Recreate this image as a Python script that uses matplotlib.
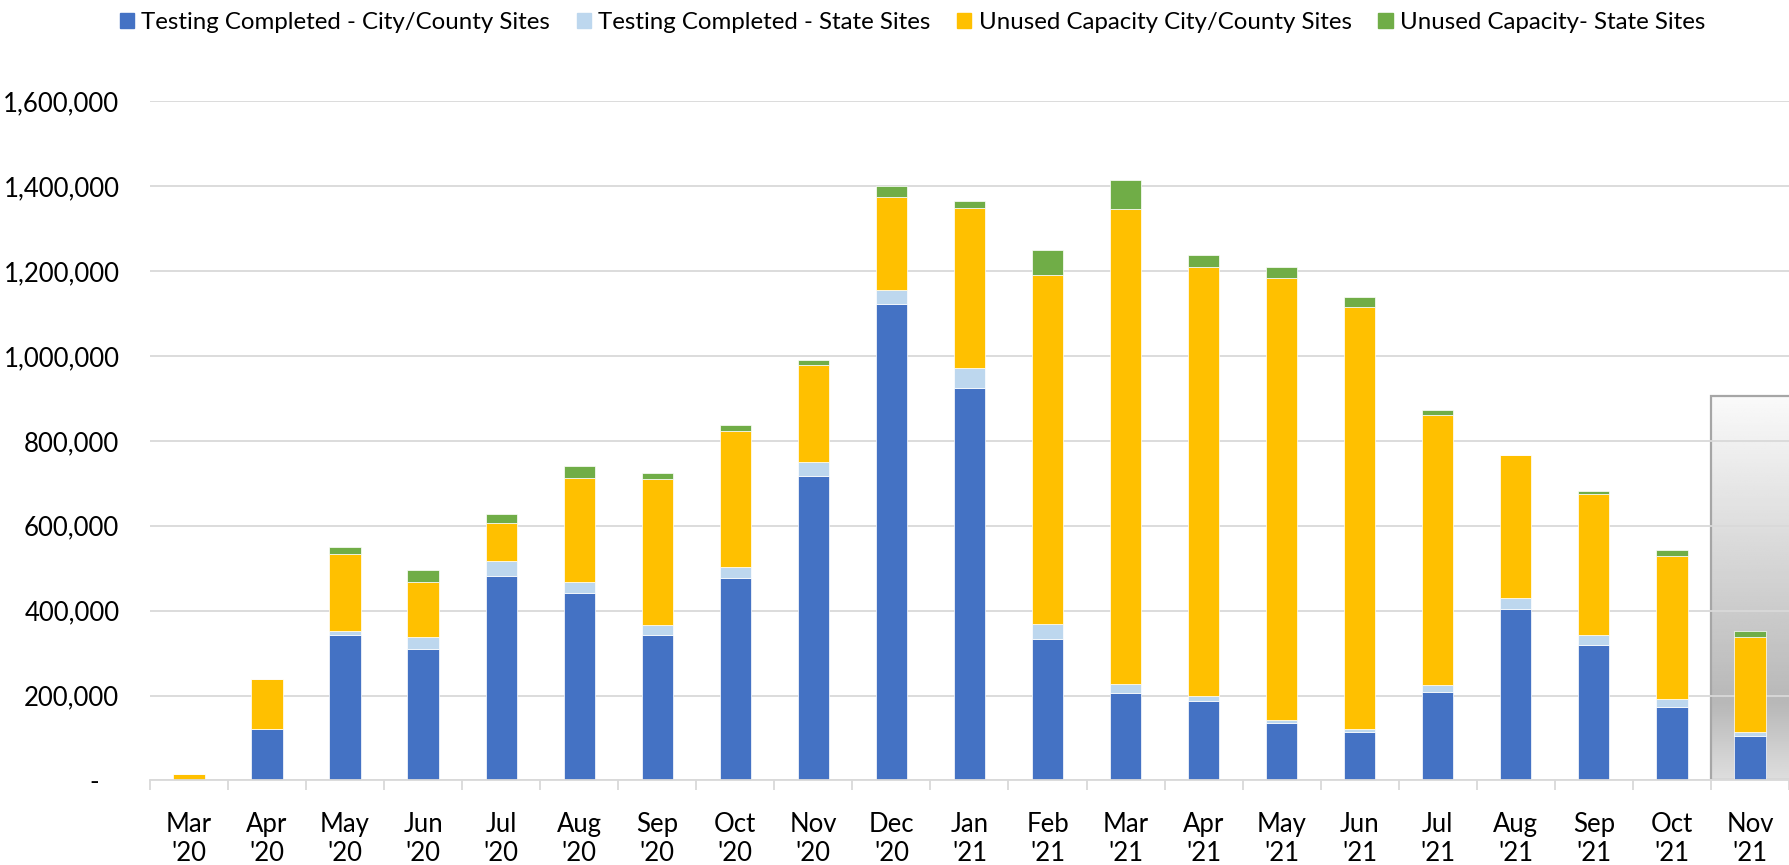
import numpy as np
import matplotlib
matplotlib.use("Agg")
import matplotlib.pyplot as plt
from matplotlib.patches import Patch, Rectangle
from matplotlib.ticker import FuncFormatter, FixedLocator

months = ["Mar\n'20", "Apr\n'20", "May\n'20", "Jun\n'20", "Jul\n'20", "Aug\n'20",
          "Sep\n'20", "Oct\n'20", "Nov\n'20", "Dec\n'20", "Jan\n'21", "Feb\n'21",
          "Mar\n'21", "Apr\n'21", "May\n'21", "Jun\n'21", "Jul\n'21", "Aug\n'21",
          "Sep\n'21", "Oct\n'21", "Nov\n'21"]

city_tested = [0, 121000, 343000, 309000, 481000, 441000, 343000, 476000, 718000,
               1122000, 925000, 333000, 207000, 187000, 135000, 114000, 209000,
               403000, 318000, 172000, 104000]
state_tested = [0, 0, 10000, 28000, 37000, 27000, 24000, 28000, 32000, 33000,
                48000, 35000, 21000, 12000, 8000, 6000, 17000, 27000, 24000,
                21000, 11000]
city_unused = [14000, 117000, 180000, 131000, 88000, 244000, 343000, 320000,
               228000, 220000, 376000, 822000, 1119000, 1011000, 1042000, 995000,
               636000, 338000, 332000, 337000, 223000]
state_unused = [0, 0, 16000, 27000, 22000, 28000, 15000, 14000, 13000, 26000,
                16000, 60000, 68000, 27000, 26000, 24000, 12000, 0, 7000, 14000,
                13000]

series_names = ["Testing Completed - City/County Sites",
                "Testing Completed - State Sites",
                "Unused Capacity City/County Sites",
                "Unused Capacity- State Sites"]
colors = ["#4472C4", "#BDD7EE", "#FFC000", "#70AD47"]

# shaded box marking the partial month
box_top = 905000

plt.rcParams['font.family'] = ['Lato', 'DejaVu Sans']

fig = plt.figure(figsize=(17.89, 8.65), dpi=100)
ax = fig.add_axes([0.0838, 0.0978, 0.9162, 0.7849])

x = np.arange(len(months))
bottom = np.zeros(len(months))
for vals, col, name in zip([city_tested, state_tested, city_unused, state_unused],
                           colors, series_names):
    ax.bar(x, vals, 0.4, bottom=bottom, color=col, edgecolor='white',
           linewidth=0.5, label=name, zorder=3)
    bottom += np.array(vals)

# gradient box behind the last month
shade = np.interp(np.linspace(0, 1, 200), [0, 0.8, 1.0], [0.98, 0.72, 0.87])
ax.imshow(shade.reshape(-1, 1), cmap='gray', vmin=0, vmax=1, aspect='auto',
          extent=[x[-1] - 0.5, x[-1] + 1.5, 0, box_top], zorder=1,
          interpolation='bilinear')
ax.add_patch(Rectangle((x[-1] - 0.5, 0), 2, box_top, fill=False,
                       edgecolor='#a6a6a6', linewidth=1.6, zorder=2))

ax.set_xlim(-0.5, len(months) - 0.5)
ax.set_ylim(0, 1600000)
ax.set_yticks(np.arange(0, 1600001, 200000))
ax.yaxis.set_major_formatter(FuncFormatter(
    lambda v, p: "-   " if v == 0 else f"{v:,.0f}"))
ax.grid(axis='y', color='#d9d9d9', linewidth=1.3, zorder=1.5)
ax.set_axisbelow(False)
for gl in ax.get_ygridlines():
    gl.set_zorder(1.5)

ax.set_xticks(x)
ax.set_xticklabels(months)
ax.xaxis.set_minor_locator(FixedLocator(np.arange(-0.5, len(months), 1)))
ax.tick_params(axis='x', which='major', length=0, pad=23, labelsize=18.5)
ax.tick_params(axis='x', which='minor', length=7, color='#d9d9d9', width=1.3)
ax.tick_params(axis='y', length=0, pad=22, labelsize=18.5)

for side in ['left', 'right', 'top']:
    ax.spines[side].set_visible(False)
ax.spines['bottom'].set_color('#d9d9d9')
ax.spines['bottom'].set_linewidth(1.3)
ax.spines['bottom'].set_zorder(4)

handles = [Patch(color=c) for c in colors]
fig.legend(handles, series_names, loc='center', bbox_to_anchor=(0.51, 0.974),
           ncol=4, frameon=False, fontsize=17.3, handlelength=0.6,
           handleheight=0.6, handletextpad=0.3, columnspacing=1.1)

fig.savefig("out.png", dpi=100)
